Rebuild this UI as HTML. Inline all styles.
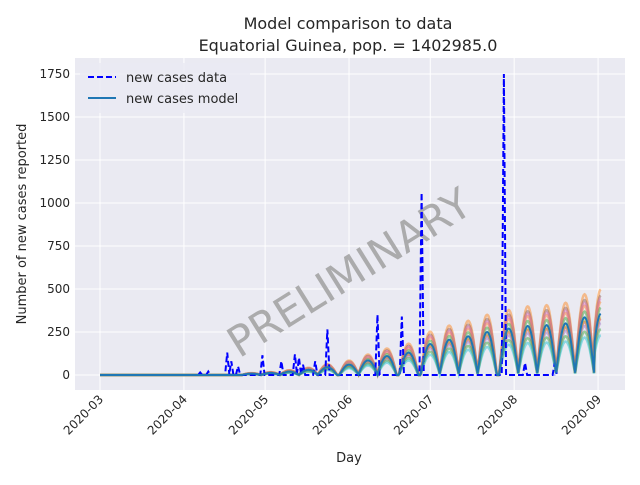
<!DOCTYPE html>
<html><head><meta charset="utf-8"><style>
body{margin:0;background:#fff;font-family:"Liberation Sans","DejaVu Sans",sans-serif}
svg text{font-family:"DejaVu Sans","Liberation Sans",sans-serif}
</style></head><body>
<svg id="c" width="640" height="480"></svg>
<script>
const yTicks=[0,250,500,750,1000,1250,1500,1750];
const xTickLabels=["2020-03","2020-04","2020-05","2020-06","2020-07","2020-08","2020-09"];
const xTickDays=[0,31,61,92,122,153,184];
// model: weekly humps (day of peak, peak value of central model)
const peakDays=[56,63,70,77,84,92,99,106,114,122,129,136,143,151,158,165,172,179,185];
const peakVals=[8,12,20,30,45,60,85,110,130,180,205,225,250,270,285,290,300,335,355];
const memberScale=[1.4,1.3,1.2,1.1,0.92,0.85,0.75,0.65,1.25,0.95];
const memberColors=["#ff7f0e","#8c564b","#ff7f0e","#2ca02c","#d62728","#9467bd","#2ca02c","#17becf","#e377c2","#bcbd22"];
// data spikes
const dataDays=[37,40,47,48.5,51,60,67,72,73.5,75,79.5,84,102.5,111.5,118.8,149.2,157,168];
const dataVals=[15,20,130,80,50,115,80,120,100,60,80,265,350,340,1060,1750,70,70];
const dataEnd=168;
const svg=document.getElementById('c');
const NS='http://www.w3.org/2000/svg';
const L=75,R=625,T=58,B=390;
const xs=d=>100+d*2.707;
const ys=v=>375-v*0.172;
function el(tag,attrs,parent){const e=document.createElementNS(NS,tag);for(const k in attrs)e.setAttribute(k,attrs[k]);(parent||svg).appendChild(e);return e;}
const bg=el('rect',{x:L,y:T,width:R-L,height:B-T,fill:'#eaeaf2'});


yTicks.forEach(v=>{
  const g=el('line',{x1:L,x2:R,y1:ys(v),y2:ys(v),stroke:'#fff','stroke-width':1});
  
  
  const t=el('text',{x:70,y:ys(v)+4,'text-anchor':'end','font-size':12,fill:'#262626'});t.textContent=v;
  
  
});
xTickDays.forEach((d,i)=>{
  const g=el('line',{x1:xs(d),x2:xs(d),y1:T,y2:B,stroke:'#fff','stroke-width':1});
  
  
  const t=el('text',{x:xs(d)+4,y:400,'text-anchor':'end','font-size':12,fill:'#262626',transform:`rotate(-45 ${xs(d)+4} 400)`});t.textContent=xTickLabels[i];
  
  
});
function modelVal(d,scale){
  for(let i=0;i<peakDays.length;i++){
    const p=peakDays[i];
    const half=3.6;
    if(d>=p-half&&d<=p+half){return scale*peakVals[i]*Math.cos(Math.PI/2*(d-p)/half);}
  }
  return 0;
}
function modelPath(scale){
  let s='';
  for(let d=0;d<=185;d+=0.25){s+=(d?'L':'M')+xs(d).toFixed(1)+','+ys(modelVal(d,scale)).toFixed(1);}
  return s;
}
// watermark
const wm=el('text',{x:350,y:287,'text-anchor':'middle','font-size':42,fill:'#a0a0a0','fill-opacity':0.85,transform:'rotate(-32 350 274)'});
wm.textContent='PRELIMINARY';


memberScale.forEach((s,i)=>{
  const p=el('path',{d:modelPath(s),fill:'none',stroke:memberColors[i],'stroke-width':2.5,'stroke-opacity':0.45});
  
  
});
// data line
let dp='M'+xs(0)+','+ys(0);
dataDays.forEach((d,i)=>{dp+='L'+xs(d-0.8)+','+ys(0)+'L'+xs(d)+','+ys(dataVals[i])+'L'+xs(d+0.8)+','+ys(0);});
dp+='L'+xs(dataEnd)+','+ys(0);
const dl=el('path',{d:dp,fill:'none',stroke:'#0000ff','stroke-width':2,'stroke-dasharray':'6,3'});


const ml=el('path',{d:modelPath(1),fill:'none',stroke:'#1f77b4','stroke-width':2});


</script>
<svg width="640" height="480" style="position:absolute;left:0;top:0">
<text x="348" y="29" text-anchor="middle" font-size="16" fill="#262626">Model comparison to data</text>
<text x="348" y="51" text-anchor="middle" font-size="16" fill="#262626">Equatorial Guinea, pop. = 1402985.0</text>
<text x="26" y="224" text-anchor="middle" font-size="13" fill="#262626" transform="rotate(-90 26 224)">Number of new cases reported</text>
<text x="349" y="462" text-anchor="middle" font-size="13" fill="#262626">Day</text>
<g>
<rect x="80" y="63" width="170" height="50" rx="3" fill="#eaeaf2" fill-opacity="0.8"/>
<line x1="88" y1="77" x2="116" y2="77" stroke="#0000ff" stroke-width="2" stroke-dasharray="6,3"/>
<text x="126" y="82" font-size="13" fill="#262626">new cases data</text>
<line x1="88" y1="98" x2="116" y2="98" stroke="#1f77b4" stroke-width="2"/>
<text x="126" y="103" font-size="13" fill="#262626">new cases model</text>
</g>
</svg>
</body></html>
